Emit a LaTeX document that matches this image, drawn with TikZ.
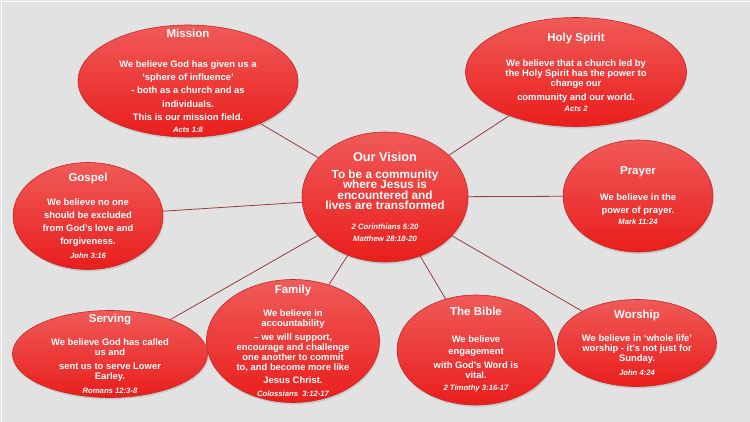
\documentclass[tikz,border=0pt]{standalone}
\usepackage{fontspec}
\setmainfont{Liberation Sans}
\newfontfamily\bubblefont{Liberation Sans}
\usepackage{tikz}
\usetikzlibrary{shapes.geometric,shadows,positioning}
\definecolor{slidegray}{RGB}{226,226,226}
\definecolor{bubbletop}{RGB}{239,90,88}
\definecolor{bubblebot}{RGB}{233,30,28}
\definecolor{bubbleedge}{RGB}{196,40,38}
\definecolor{linkred}{RGB}{150,62,62}
\newcommand{\bubbletitle}{\fontsize{11.5}{10}\selectfont}
\newcommand{\scripref}{\fontsize{7.7}{10}\selectfont\itshape}
\lineskiplimit=-8pt

\begin{document}
\begin{tikzpicture}[x=1pt,y=-1pt,
    bubble/.style={ellipse, draw=bubbleedge, line width=0.6pt,
      top color=bubbletop, bottom color=bubblebot, inner sep=0pt,
      drop shadow={shadow xshift=0.8pt, shadow yshift=-2pt, opacity=0.25}},
    bubbletext/.style={text=white, align=center, inner sep=0pt,
      font=\bubblefont\bfseries\fontsize{9.4}{10}\selectfont},
    link/.style={linkred, line width=0.8pt}]
        % Slide
        \useasboundingbox (0,0) rectangle (750,422);
        \fill[slidegray] (0,0) rectangle (750,422);
        \draw[white, line width=1pt] (0,1.5) -- (750,1.5);
        \draw[white, line width=1pt] (1.5,0) -- (1.5,422);
        % Bubbles
        \node[bubble, minimum width=166pt, minimum height=130pt] (vision) at (385,197) {};
        \node[bubble, minimum width=220pt, minimum height=112pt] (mission) at (188,81) {};
        \node[bubble, minimum width=221pt, minimum height=109pt] (spirit) at (576,72) {};
        \node[bubble, minimum width=150pt, minimum height=107pt] (gospel) at (88,216) {};
        \node[bubble, minimum width=150pt, minimum height=112pt] (prayer) at (638,196) {};
        \node[bubble, minimum width=195pt, minimum height=87pt] (serving) at (110,354) {};
        \node[bubble, minimum width=173pt, minimum height=123pt] (family) at (293,341) {};
        \node[bubble, minimum width=158pt, minimum height=110pt] (bible) at (476,350) {};
        \node[bubble, minimum width=159pt, minimum height=87pt] (worship) at (637,343) {};
        % Links from the vision
        \foreach \b in {mission,spirit,gospel,prayer,serving,family,bible,worship}
          \draw[link] (vision) -- (\b);
        % Texts
        \node[bubbletext, font=\bubblefont\bfseries\fontsize{11.8}{10.3}\selectfont]
          (vision-txt) at (vision) {{\fontsize{12.7}{10}\selectfont Our Vision}\\[6.5pt]
          To be a community\\where Jesus is\\encountered and\\lives are transformed\\[10pt]
          {\scripref 2 Corinthians 5:20}\\[1.5pt]{\scripref Matthew 28:18-20}};
        \node[bubbletext] (mission-txt) at (mission) {{\bubbletitle Mission}\\[20pt]
          We believe God has given us a\\[3.3pt]‘sphere of influence’\\[3.3pt]
          - both as a church and as\\[3.3pt]individuals.\\[3.3pt]
          This is our mission field.\\[2.5pt]{\scripref Acts 1:8}};
        \node[bubbletext] (spirit-txt) at (spirit) {{\bubbletitle Holy Spirit}\\[15pt]
          We believe that a church led by\\the Holy\ Spirit has\ the power to\\change our\\[4pt]
          community and our world.\\[1pt]{\scripref Acts 2}};
        \node[bubbletext] (gospel-txt) at (gospel) {{\bubbletitle Gospel}\\[14pt]
          We believe no one\\[3pt]should be excluded\\[3pt]from God’s love and\\[3pt]
          forgiveness.\\[4pt]{\scripref John 3:16}};
        \node[bubbletext] (prayer-txt) at (prayer) {{\bubbletitle Prayer}\\[16pt]
          We believe in the\\[3pt]power of prayer.\\[1pt]{\scripref Mark 11:24}};
        \node[bubbletext] (serving-txt) at (serving) {{\bubbletitle Serving}\\[13pt]
          We believe God has called\\us and\\[3.5pt]sent us to serve Lower\\
          Earley.\\[4pt]{\scripref Romans 12:3-8}};
        \node[bubbletext] (family-txt) at (family) {{\bubbletitle Family}\\[13pt]
          We believe in\\accountability\\[4pt]– we will support,\\encourage and challenge\\
          one\ another to\ commit\\to, and become more like\\[3pt]Jesus Christ.\\[3pt]
          {\scripref Colossians\ \ 3:12-17}};
        \node[bubbletext] (bible-txt) at (bible) {{\bubbletitle The Bible}\\[17pt]
          We believe\\[1.7pt]engagement\\[4.3pt]with God’s Word is\\vital.\\[2pt]
          {\scripref 2 Timothy\ 3:16-17}};
        \node[bubbletext] (worship-txt) at (worship) {{\bubbletitle Worship}\\[13pt]
          We believe in\ ‘whole life’\\worship - it’s\ not just\ for\\Sunday.\\[4pt]
          {\scripref John 4:24}};
\end{tikzpicture}
\end{document}
